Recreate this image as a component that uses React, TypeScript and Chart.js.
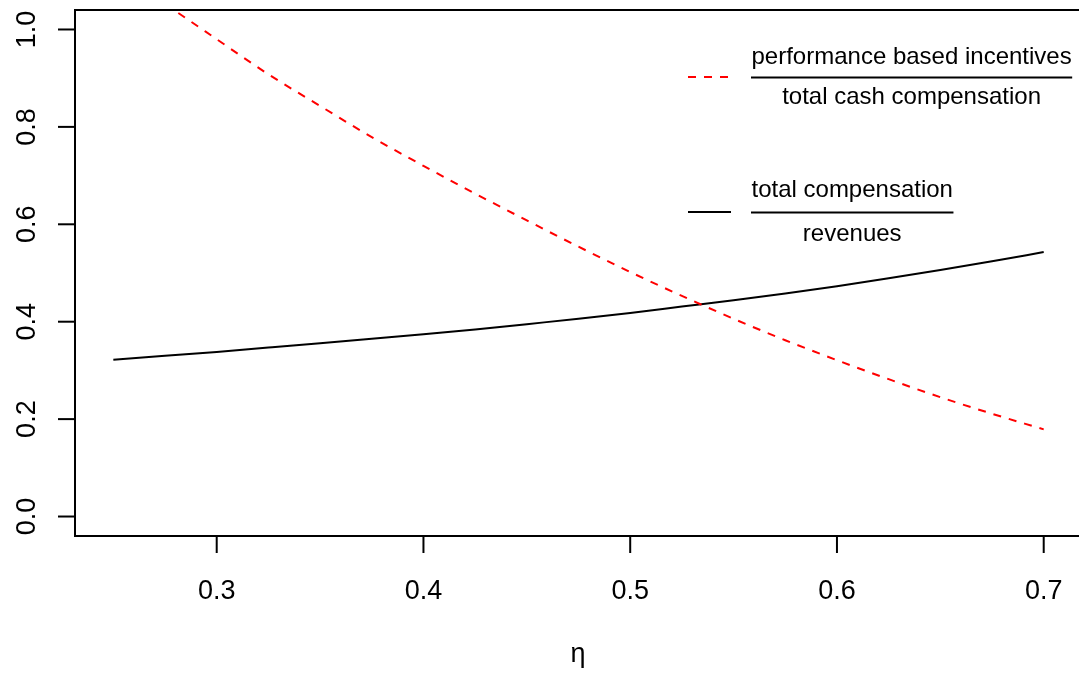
import React, { useEffect, useRef } from "react";
import { Chart, registerables } from "chart.js";

Chart.register(...registerables);

// ---- data ----
const etaValues = [0.25, 0.275, 0.3, 0.325, 0.35, 0.375, 0.4, 0.425, 0.45, 0.475, 0.5, 0.525, 0.55, 0.575, 0.6, 0.625, 0.65, 0.675, 0.7];
const incentiveShare = [1.13, 1.053, 0.98, 0.908, 0.843, 0.779, 0.72, 0.663, 0.608, 0.554, 0.502, 0.453, 0.406, 0.362, 0.321, 0.282, 0.245, 0.211, 0.179];
const compensationShare = [0.322, 0.33, 0.338, 0.347, 0.356, 0.365, 0.374, 0.384, 0.395, 0.406, 0.418, 0.431, 0.444, 0.458, 0.473, 0.489, 0.506, 0.524, 0.543];

const xTicks = [0.3, 0.4, 0.5, 0.6, 0.7];
const xTickLabels = ["0.3", "0.4", "0.5", "0.6", "0.7"];
const yTicks = [0, 0.2, 0.4, 0.6, 0.8, 1.0];
const yTickLabels = ["0.0", "0.2", "0.4", "0.6", "0.8", "1.0"];

const legendNumerators = ["performance based incentives", "total compensation"];
const legendDenominators = ["total cash compensation", "revenues"];
const xAxisTitle = "η";

const FONT = '"Liberation Sans", Arial, Helvetica, sans-serif';

const rAxesPlugin = {
  id: "rAxes",
  afterDraw(chart: any) {
    const ctx = chart.ctx as CanvasRenderingContext2D;
    const area = chart.chartArea;
    const xs = chart.scales.x;
    const ys = chart.scales.y;
    ctx.save();
    ctx.strokeStyle = "#000";
    ctx.fillStyle = "#000";
    ctx.lineWidth = 2;
    ctx.setLineDash([]);

    // box (left, top, bottom)
    ctx.beginPath();
    ctx.moveTo(chart.width, area.top);
    ctx.lineTo(area.left, area.top);
    ctx.lineTo(area.left, area.bottom);
    ctx.lineTo(chart.width, area.bottom);
    ctx.stroke();

    // x ticks
    ctx.font = `27px ${FONT}`;
    ctx.textAlign = "center";
    ctx.textBaseline = "alphabetic";
    xTicks.forEach((v, i) => {
      const px = xs.getPixelForValue(v);
      ctx.beginPath();
      ctx.moveTo(px, area.bottom);
      ctx.lineTo(px, area.bottom + 17);
      ctx.stroke();
      ctx.fillText(xTickLabels[i], px, 599);
    });

    // y ticks
    yTicks.forEach((v, i) => {
      const py = ys.getPixelForValue(v);
      ctx.beginPath();
      ctx.moveTo(area.left, py);
      ctx.lineTo(area.left - 17, py);
      ctx.stroke();
      ctx.save();
      ctx.translate(35, py);
      ctx.rotate(-Math.PI / 2);
      ctx.fillText(yTickLabels[i], 0, 0);
      ctx.restore();
    });

    // x axis title
    ctx.fillText(xAxisTitle, (area.left + xs.getPixelForValue(0.718)) / 2, 662);

    // legend
    ctx.font = `24px ${FONT}`;
    const entries = [
      { color: "#FF0000", dash: [8, 8], sampleY: 77, barY: 77.5, numY: 63.5, denY: 104 },
      { color: "#000000", dash: [], sampleY: 212, barY: 212.5, numY: 197, denY: 241 },
    ];
    entries.forEach((e, i) => {
      ctx.strokeStyle = e.color;
      ctx.setLineDash(e.dash);
      ctx.beginPath();
      ctx.moveTo(688, e.sampleY);
      ctx.lineTo(731, e.sampleY);
      ctx.stroke();
      ctx.setLineDash([]);
      ctx.strokeStyle = "#000";
      const w = Math.max(ctx.measureText(legendNumerators[i]).width, ctx.measureText(legendDenominators[i]).width) + 1;
      const left = 751;
      ctx.beginPath();
      ctx.moveTo(left, e.barY);
      ctx.lineTo(left + w, e.barY);
      ctx.stroke();
      ctx.fillText(legendNumerators[i], left + w / 2, e.numY);
      ctx.fillText(legendDenominators[i], left + w / 2, e.denY);
    });

    ctx.restore();
  },
};

export default function App() {
  const canvasRef = useRef<HTMLCanvasElement | null>(null);

  useEffect(() => {
    if (!canvasRef.current) return;
    const chart = new Chart(canvasRef.current, {
      type: "line",
      data: {
        datasets: [
          {
            label: legendNumerators[0] + " / " + legendDenominators[0],
            data: etaValues.map((x, i) => ({ x, y: incentiveShare[i] })),
            borderColor: "#FF0000",
            borderWidth: 2,
            borderDash: [8, 8],
            pointRadius: 0,
            cubicInterpolationMode: "monotone",
            fill: false,
          },
          {
            label: legendNumerators[1] + " / " + legendDenominators[1],
            data: etaValues.map((x, i) => ({ x, y: compensationShare[i] })),
            borderColor: "#000000",
            borderWidth: 2,
            pointRadius: 0,
            cubicInterpolationMode: "monotone",
            fill: false,
          },
        ],
      },
      options: {
        responsive: false,
        animation: false,
        devicePixelRatio: 1,
        layout: { padding: { left: 75, top: 10, right: 0, bottom: 137 } },
        plugins: { legend: { display: false }, tooltip: { enabled: false } },
        scales: {
          x: { type: "linear", min: 0.23146, max: 0.71707, display: false },
          y: { type: "linear", min: -0.04, max: 1.04, display: false },
        },
      },
      plugins: [rAxesPlugin],
    } as any);
    return () => chart.destroy();
  }, []);

  return (
    <div style={{ position: "fixed", left: 0, top: 0, width: 1079, height: 673, background: "#fff" }}>
      <canvas ref={canvasRef} width={1079} height={673} style={{ display: "block" }} />
    </div>
  );
}
